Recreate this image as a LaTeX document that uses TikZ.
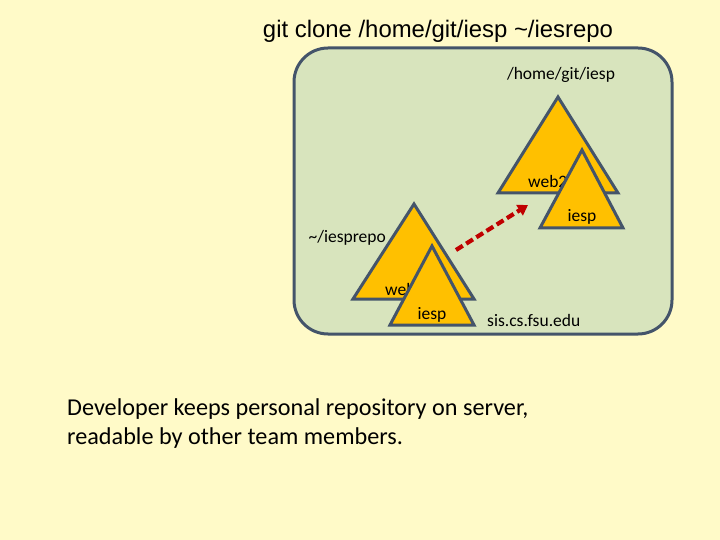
\documentclass[tikz,border=0pt]{standalone}
\usepackage{fontspec}
\setmainfont{Carlito}
\newfontfamily\titlefont{Liberation Sans}
\usepackage{tikz}
\usetikzlibrary{positioning,arrows.meta}

\definecolor{slidebg}{HTML}{FFFAC8}
\definecolor{serverfill}{HTML}{D8E4BD}
\definecolor{slateline}{HTML}{44546A}
\definecolor{repogold}{HTML}{FFC000}
\definecolor{pushred}{HTML}{C00000}

\tikzset{
    repo/.style={fill=repogold, draw=slateline, line width=3pt, line join=miter},
    lbl/.style={inner sep=0pt, font=\fontsize{17.5}{20}\selectfont},
}

\begin{document}
\begin{tikzpicture}[x=1pt, y=-1pt]

    \fill[slidebg] (0,0) rectangle (720,540);
    \useasboundingbox (0,0) rectangle (720,540);

    \node[inner sep=0pt, font=\titlefont\fontsize{23.9}{28}\selectfont] (title) at (438,31) {git clone /home/git/iesp \textasciitilde/iesrepo};

    % server box
    \draw[fill=serverfill, draw=slateline, line width=3pt, rounded corners=34pt] (294,48) rectangle (672,334);

    % shared repo on the server
    \coordinate (webtop) at (558,97);
    \draw[repo] (webtop) -- (618,193) -- (498,193) -- cycle;
    \node[lbl, anchor=base west] (web) at (528,188) {web2};
    \coordinate (iesptop) at (582,150);
    \draw[repo] (iesptop) -- (623,228) -- (540,228) -- cycle;
    \node[lbl, anchor=base] (iesp) at (582,222) {iesp};
    \node[lbl, anchor=base] (homegit) at (561,80) {/home/git/iesp};

    % personal repo
    \coordinate (mywebtop) at (414,204);
    \draw[repo] (mywebtop) -- (474,299) -- (353,299) -- cycle;
    \node[lbl, anchor=base west] (myweb) at (385,295) {web2};
    \coordinate (myiesptop) at (432,246);
    \draw[repo] (myiesptop) -- (474,325) -- (390,325) -- cycle;
    \node[lbl, anchor=base] (myiesp) at (432,319) {iesp};
    \node[lbl, anchor=base east] (myrepo) at (386,242) {\textasciitilde/iesprepo};

    \node[lbl, anchor=base west] (host) at (487,326) {sis.cs.fsu.edu};

    \coordinate (from) at (456,250);
    \coordinate (to) at (528,205);
    \draw[pushred, line width=4.2pt, dash pattern=on 8pt off 4pt, -{Triangle[length=10pt, width=12pt]}] (from) -- (to);

    \node[anchor=north west, inner sep=0pt, align=left, font=\fontsize{24.2}{29}\selectfont] (note) at (67,398) {Developer keeps personal repository on server,\\readable by other team members.};

\end{tikzpicture}
\end{document}
